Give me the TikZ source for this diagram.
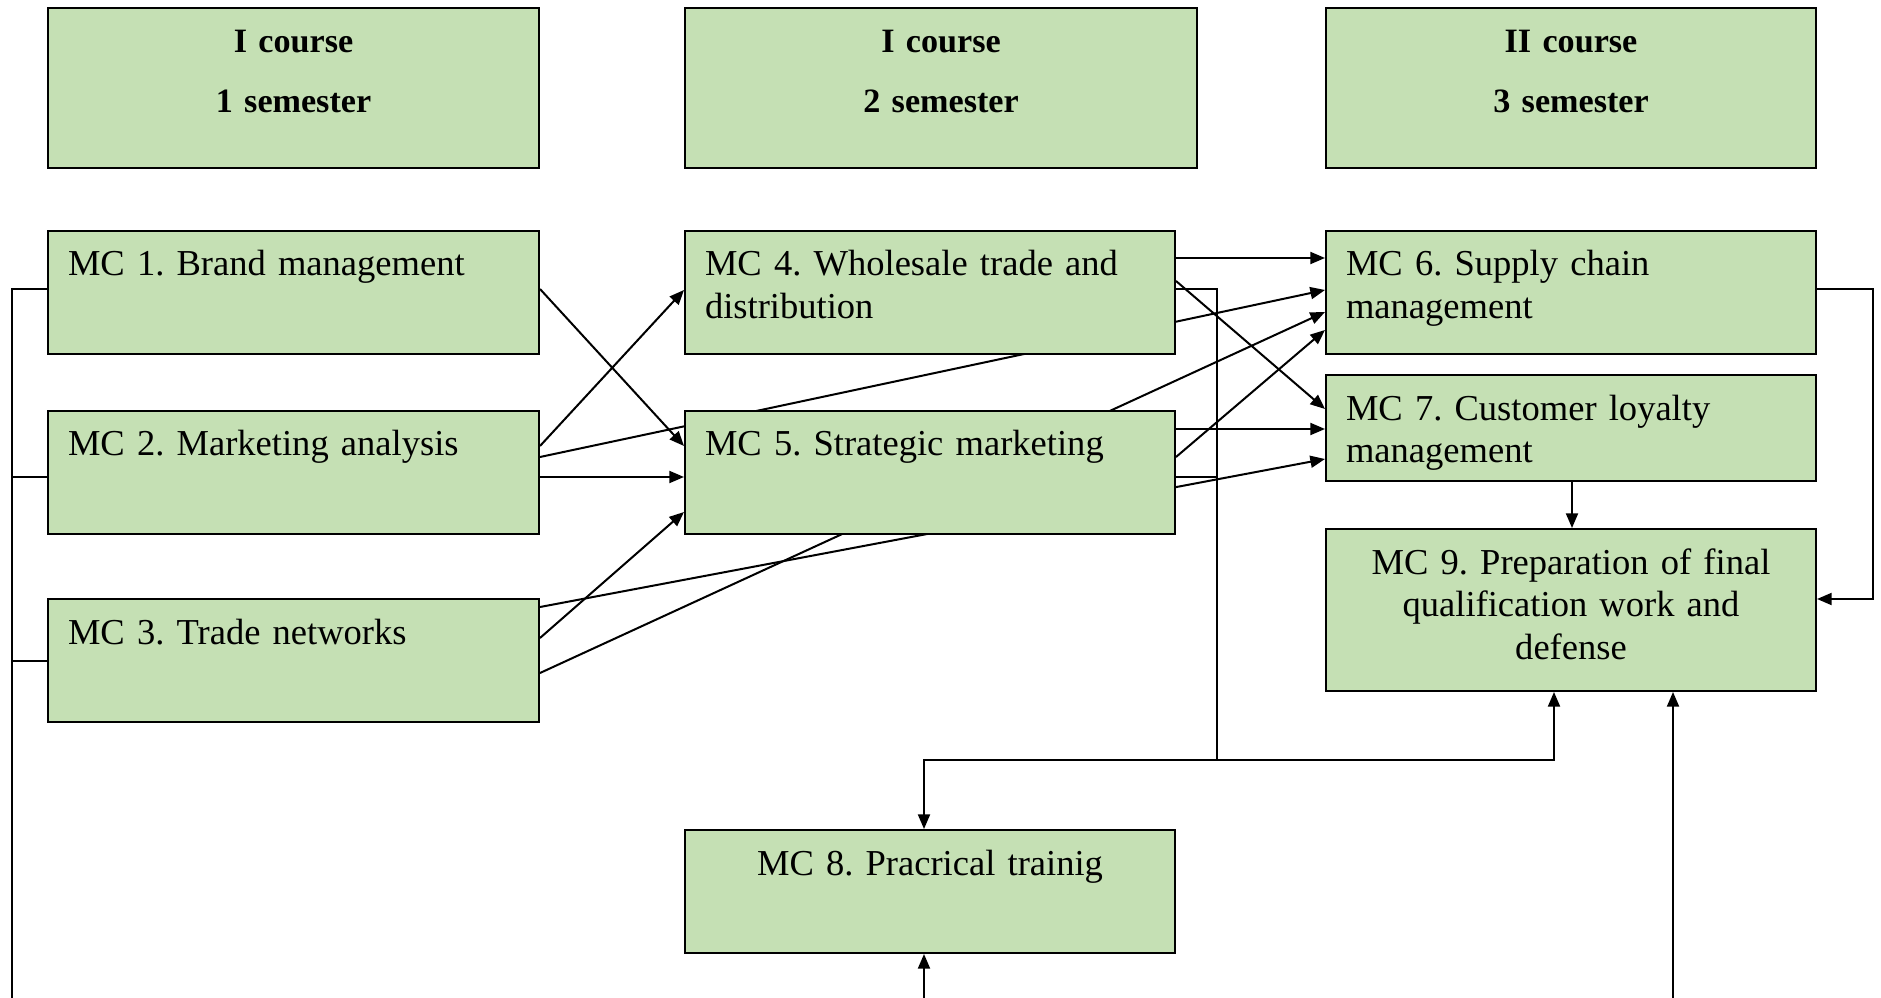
\documentclass[tikz,border=0pt]{standalone}
\usepackage{fontspec}
\setmainfont{Liberation Serif}
\usetikzlibrary{arrows.meta}
\definecolor{boxgreen}{RGB}{197,224,180}
\pgfdeclarelayer{bg}
\pgfsetlayers{bg,main}
\frenchspacing
\begin{document}
\begin{tikzpicture}[x=0.375pt, y=-0.375pt,
  box/.style={draw=black, line width=0.75pt, fill=boxgreen, anchor=north west,
    inner xsep=7.5pt, inner ysep=0pt, text height=16.875pt,
    font=\fontsize{13.7pt}{16.1pt}\selectfont},
  lft/.style={align=left},
  ctr/.style={align=center},
  hdr/.style={align=center, text height=16.875pt, text depth=43.125pt,
    font=\fontsize{12.8pt}{16.1pt}\selectfont\bfseries},
  w491/.style={text width=169.125pt},
  w490/.style={text width=168.75pt},
  w512/.style={text width=177pt},
  d123/.style={text depth=29.25pt},
  d106/.style={text depth=22.875pt},
  d162/.style={text depth=43.875pt},
  ln/.style={line width=0.75pt, draw=black},
  arr/.style={ln, -{Triangle[length=5.5pt,width=4.5pt]}}
]
\useasboundingbox (0,0) rectangle (1881,998);

% headers
\node[box,hdr,w491] (h1) at (47,7) {I course\\[6.2pt]1 semester};
\node[box,hdr,w512] (h2) at (684,7) {I course\\[6.2pt]2 semester};
\node[box,hdr,w490] (h3) at (1325,7) {II course\\[6.2pt]3 semester};

% modules
\node[box,lft,w491,d123] (mc1) at (47,230) {MC 1. Brand management};
\node[box,lft,w491,d123] (mc2) at (47,410) {MC 2. Marketing analysis};
\node[box,lft,w491,d123] (mc3) at (47,598) {MC 3. Trade networks};
\node[box,lft,w490,d123] (mc4) at (684,230) {MC 4. Wholesale trade and\\distribution};
\node[box,lft,w490,d123] (mc5) at (684,410) {MC 5. Strategic marketing};
\node[box,lft,w490,d123] (mc6) at (1325,230) {MC 6. Supply chain\\management};
\node[box,lft,w490,d106] (mc7) at (1325,374) {MC 7. Customer loyalty\\management};
\node[box,ctr,w490,d162] (mc9) at (1325,528) {MC 9. Preparation of final\\qualification work and\\defense};
\node[box,ctr,w490,d123] (mc8) at (684,829) {MC 8. Pracrical trainig};

% free ends
\coordinate (lb) at (12,998);
\coordinate (b8) at (924,998);
\coordinate (b9) at (1673,998);
\coordinate (j) at (1217,760);

\begin{pgfonlayer}{bg}
% left bus
\draw[ln] (mc1.west |- 0,289) -- (12,289) -- (lb);
\draw[ln] (mc2.west |- 0,477) -- (12,477);
\draw[ln] (mc3.west |- 0,661) -- (12,661);

% semester 1 -> semester 2 / 3
\draw[arr] (mc1.east |- 0,289) -- (mc5.west |- 0,446);
\draw[arr] (mc2.east |- 0,446) -- (mc4.west |- 0,290);
\draw[arr] (mc2.east |- 0,457) -- (mc6.west |- 0,290);
\draw[arr] (mc2.east |- 0,477) -- (mc5.west |- 0,477);
\draw[arr] (mc3.east |- 0,607) -- (mc7.west |- 0,459);
\draw[arr] (mc3.east |- 0,638) -- (mc5.west |- 0,512);
\draw[arr] (mc3.east |- 0,673) -- (mc6.west |- 0,312);

% semester 2 -> semester 3
\draw[arr] (mc4.east |- 0,258) -- (mc6.west |- 0,258);
\draw[arr] (mc4.east |- 0,281) -- (mc7.west |- 0,409);
\draw[arr] (mc5.east |- 0,429) -- (mc7.west |- 0,429);
\draw[arr] (mc5.east |- 0,457) -- (mc6.west |- 0,330);

% semester 3 internal
\draw[arr] (mc7.south -| 1572,0) -- (mc9.north -| 1572,0);
\draw[arr] (mc6.east |- 0,289) -- (1873,289) -- (1873,599) -- (mc9.east |- 0,599);

% practical training bus
\draw[ln] (mc4.east |- 0,289) -- (1217,289) -- (j);
\draw[ln] (mc5.east |- 0,477) -- (1217,477);
\draw[arr] (j) -| (mc8.north -| 924,0);
\draw[arr] (j) -| (mc9.south -| 1554,0);
\draw[arr] (b8) -- (mc8.south -| 924,0);
\draw[arr] (b9) -- (mc9.south -| 1673,0);
\end{pgfonlayer}
\end{tikzpicture}
\end{document}
